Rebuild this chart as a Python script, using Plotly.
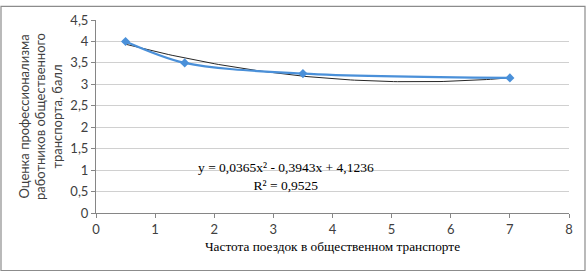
import numpy as np
import plotly.graph_objects as go

# Data
freq = [0.5, 1.5, 3.5, 7]
score = [4.0, 3.5, 3.25, 3.15]
trend_coef = [0.0365, -0.3943, 4.1236]  # a, b, c as printed on the chart
eq_text = "y = 0,0365x² - 0,3943x + 4,1236<br>R² = 0,9525"
x_title = "Частота поездок в общественном транспорте"
y_title = "Оценка профессионализма<br>работников общественного<br>транспорта, балл"
x_ticks = [0, 1, 2, 3, 4, 5, 6, 7, 8]
y_ticks = [0, 0.5, 1, 1.5, 2, 2.5, 3, 3.5, 4, 4.5]
y_ticklabels = ["0", "0,5", "1", "1,5", "2", "2,5", "3", "3,5", "4", "4,5"]

tx = np.linspace(min(freq), max(freq), 100)
ty = np.polyval(trend_coef, tx)

W, H = 587, 274
L, R, T, B = 96, 18, 15, 61
pw, ph = W - L - R, H - T - B

fig = go.Figure()
fig.add_trace(go.Scatter(x=tx, y=ty, mode="lines",
                         line=dict(color="#262626", width=1), showlegend=False,
                         hoverinfo="skip"))
fig.add_trace(go.Scatter(x=freq, y=score, mode="lines+markers",
                         line=dict(color="#4a90d9", width=2.2, shape="spline", smoothing=0.9),
                         marker=dict(symbol="diamond", size=7, color="#4a90d9"),
                         showlegend=False))

fig.add_annotation(x=3.22, y=0.86, xref="x", yref="y", text=eq_text, showarrow=False,
                   font=dict(family="Liberation Serif", size=13.5, color="#000"),
                   align="center")

def px_x(p):
    return (p - L) / pw

def px_y(p):
    return (H - B - p) / ph

fig.add_shape(type="rect", xref="paper", yref="paper",
              x0=px_x(1), x1=px_x(585), y0=px_y(272), y1=px_y(1),
              line=dict(color="#8c8c8c", width=1.2), layer="below")

fig.update_layout(
    width=W, height=H,
    margin=dict(l=L, r=R, t=T, b=B),
    plot_bgcolor="white", paper_bgcolor="white",
    xaxis=dict(range=[0, 8], tickvals=x_ticks, showgrid=False, zeroline=False,
               showline=True, linecolor="#868686", linewidth=1,
               ticks="outside", ticklen=4, tickcolor="#868686",
               tickfont=dict(family="Lato", size=13, color="#404040"),
               title=dict(text=x_title, standoff=6,
                          font=dict(family="Liberation Serif", size=13.3, color="#000"))),
    yaxis=dict(range=[0, 4.5], tickvals=y_ticks, ticktext=y_ticklabels,
               showgrid=True, gridcolor="#d0d0d0", gridwidth=1, zeroline=False,
               showline=True, linecolor="#868686", linewidth=1,
               ticks="outside", ticklen=4, tickcolor="#868686",
               tickfont=dict(family="Lato", size=13, color="#404040"),
               title=dict(text=y_title, standoff=4,
                          font=dict(family="Lato", size=13, color="#404040"))),
)

fig.write_html("out.html", config={"displayModeBar": False},
               post_script="document.body.style.margin='0';")
